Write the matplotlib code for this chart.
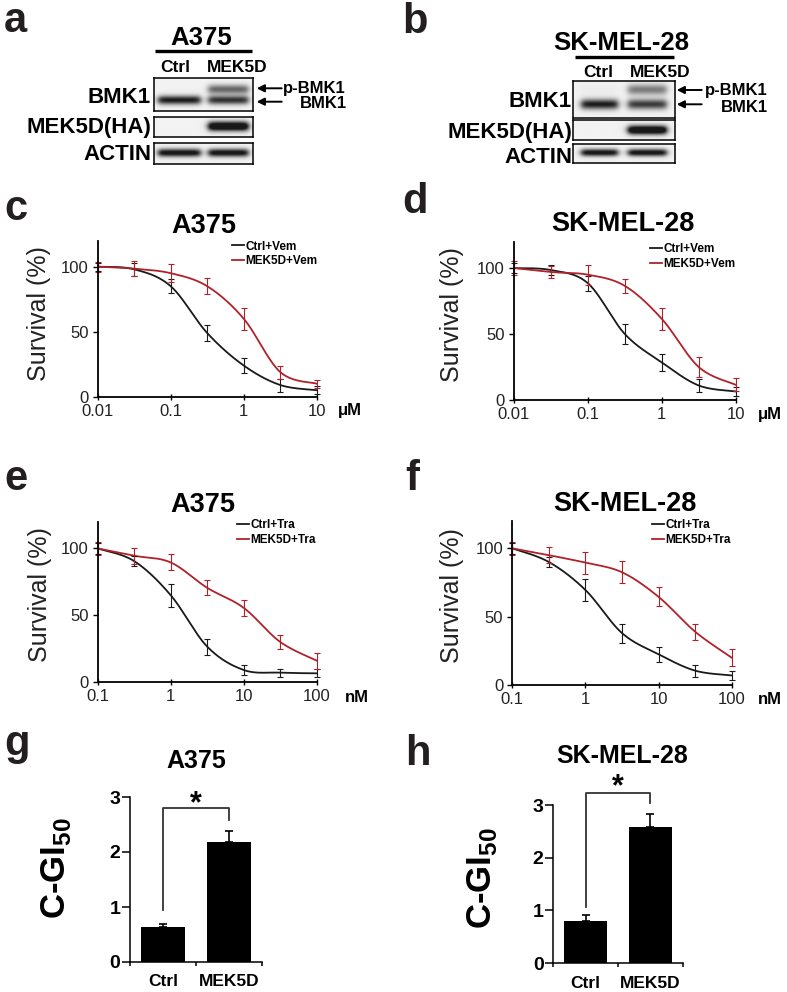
import matplotlib
matplotlib.use("Agg")
import matplotlib.pyplot as plt
import numpy as np

plt.rcParams['font.family'] = ['Liberation Sans', 'DejaVu Sans']
plt.rcParams['mathtext.fontset'] = 'custom'
plt.rcParams['mathtext.rm'] = 'Liberation Sans'
plt.rcParams['mathtext.bf'] = 'Liberation Sans:bold'

# ---- data ----
lanes = ['Ctrl', 'MEK5D']
blot_rows = ['BMK1', 'MEK5D(HA)', 'ACTIN']

# band strengths per lane (Ctrl, MEK5D)
a_bmk1_low = [1.0, 0.9]
a_bmk1_up = [0.0, 0.65]
a_ha = [0.0, 1.4]
a_actin = [1.1, 1.1]
b_bmk1_low = [1.0, 0.85]
b_bmk1_up = [0.03, 0.55]
b_ha = [0.0, 1.4]
b_actin = [1.1, 1.1]

vem_dose = [0.01, 0.0316, 0.1, 0.316, 1, 3.16, 10]
tra_dose = [0.1, 0.316, 1, 3.16, 10, 31.6, 100]

c_ctrl = [100, 98, 85, 49, 24, 9, 5]
c_ctrl_err = [3, 5, 5.5, 6, 6, 5, 3]
c_mek = [100, 98.5, 95, 85, 60, 19, 10]
c_mek_err = [4, 6, 7, 6, 8.5, 5, 3]

d_ctrl = [100, 98.5, 88.5, 50, 28.5, 11, 6.5]
d_ctrl_err = [4, 4, 5.5, 7.5, 6.5, 5, 3.5]
d_mek = [100, 97, 95, 86.5, 61.5, 25, 11.5]
d_mek_err = [5, 4.5, 7.5, 5.5, 8.5, 7.5, 5]

e_ctrl = [100, 90.5, 65, 26.5, 9, 7, 6.5]
e_ctrl_err = [4, 4, 8.5, 6, 4, 3, 3]
e_mek = [100, 94.5, 89.5, 70.5, 55.5, 30, 16]
e_mek_err = [5, 6, 6, 5.5, 6, 5, 6]

f_ctrl = [100, 90, 69.5, 38, 22.5, 10.5, 7]
f_ctrl_err = [4, 3.5, 8, 7, 5.5, 4.5, 3]
f_mek = [100, 95, 89.5, 82.5, 64.5, 39, 20]
f_mek_err = [5, 6, 8, 8, 7, 6, 6]

bar_groups = ['Ctrl', 'MEK5D']
g_gi50 = [0.64, 2.18]
g_gi50_err = [0.06, 0.20]
h_gi50 = [0.80, 2.59]
h_gi50_err = [0.11, 0.24]

BLACK = '#1a1a1a'
RED = '#b0222a'

W, H = 787, 992
fig = plt.figure(figsize=(W / 100, H / 100), dpi=100)

# pixel canvas for free text and arrows
cv = fig.add_axes([0, 0, 1, 1])
cv.set_xlim(0, W)
cv.set_ylim(H, 0)
cv.axis('off')


def box(x0, y0, x1, y1):
    return fig.add_axes([x0 / W, 1 - y1 / H, (x1 - x0) / W, (y1 - y0) / H])


def smooth(xs, ys, n=40):
    # Excel-like smoothed line (Catmull-Rom bezier) in log-x space
    lx = np.log10(np.asarray(xs, float))
    y = np.asarray(ys, float)
    px = np.concatenate([[lx[0]], lx, [lx[-1]]])
    py = np.concatenate([[y[0]], y, [y[-1]]])
    t = np.linspace(0, 1, n)[:, None]
    outx, outy = [], []
    for i in range(1, len(px) - 2):
        p0 = np.array([px[i - 1], py[i - 1]])
        p1 = np.array([px[i], py[i]])
        p2 = np.array([px[i + 1], py[i + 1]])
        p3 = np.array([px[i + 2], py[i + 2]])
        c1 = p1 + (p2 - p0) / 6
        c2 = p2 - (p3 - p1) / 6
        b = ((1 - t) ** 3) * p1 + 3 * ((1 - t) ** 2) * t * c1 + 3 * (1 - t) * t ** 2 * c2 + t ** 3 * p2
        outx.append(b[:, 0])
        outy.append(b[:, 1])
    return 10 ** np.concatenate(outx), np.concatenate(outy)


def draw_blot(ax, bands, lane_x):
    ny, nx = 80, 220
    yy = np.linspace(0, 1, ny)[:, None]
    xx = np.linspace(0, 1, nx)[None, :]
    dark = np.zeros((ny, nx))
    for row_y, sig, strengths in bands:
        for (x0, x1), s in zip(lane_x, strengths):
            lane = 1 / (1 + np.exp(-(xx - x0) / 0.018)) / (1 + np.exp((xx - x1) / 0.018))
            dark += s * lane * np.exp(-0.5 * ((yy - row_y) / sig) ** 2)
    img = 0.95 - 0.85 * np.clip(dark, 0, 1)
    ax.imshow(img, cmap='gray', vmin=0, vmax=1, extent=(0, 1, 1, 0),
              aspect='auto', interpolation='bilinear')
    ax.set_xlim(0, 1)
    ax.set_ylim(1, 0)
    ax.set_xticks([])
    ax.set_yticks([])
    for s in ax.spines.values():
        s.set_linewidth(1.1)


def blot_panel(letter, lx, title, title_x, title_y, line, col_pos, col_y,
               boxes, lane_x, bands, row_x, row_ys, arrows, arrow_lbl):
    cv.text(lx[0], lx[1], letter, fontsize=30, fontweight='bold', color='#231f20', va='baseline')
    cv.text(title_x, title_y, title, fontsize=18.5, fontweight='bold', ha='center', va='baseline')
    cv.plot([line[0], line[1]], [line[2], line[2]], color='black', lw=2.4, solid_capstyle='butt')
    for name, cx in zip(lanes, col_pos):
        cv.text(cx, col_y, name, fontsize=12.5, fontweight='bold', ha='center', va='baseline')
    for name, bx, bd, ry in zip(blot_rows, boxes, bands, row_ys):
        ax = box(*bx)
        draw_blot(ax, bd, lane_x)
        cv.text(row_x, ry, name, fontsize=16, fontweight='bold', ha='right', va='baseline')
    tip, tail, ys = arrows
    for yv in ys:
        cv.annotate('', xy=(tip, yv), xytext=(tail, yv),
                    arrowprops=dict(arrowstyle='-|>', color='black', lw=1.4,
                                    mutation_scale=11, shrinkA=0, shrinkB=0))
    (px_, py_), (bx_, by_) = arrow_lbl
    cv.text(px_, py_, 'p-BMK1', fontsize=12, fontweight='bold', ha='left', va='baseline')
    cv.text(bx_, by_, 'BMK1', fontsize=12, fontweight='bold', ha='right', va='baseline')


# ---- panel a ----
blot_panel('a', (4, 32), 'A375', 201, 45, (155, 252, 51), (175.5, 237), 71.7,
           [(154.3, 78, 252.7, 111), (154.3, 116.7, 252.7, 137.3), (154.3, 142.7, 252.7, 164.3)],
           [(0.04, 0.47), (0.55, 0.955)],
           [[(0.67, 0.095, a_bmk1_low), (0.34, 0.1, a_bmk1_up)],
            [(0.49, 0.16, a_ha)],
            [(0.49, 0.13, a_actin)]],
           151, [103.3, 133.3, 160],
           (256.7, 281.7, (88.3, 101.7)), ((283, 93.3), (346.7, 108.3)))

# ---- panel b ----
blot_panel('b', (402, 33), 'SK-MEL-28', 621.7, 50, (575, 674, 56.7), (598.3, 660), 76.7,
           [(573.3, 81, 675, 118.3), (573.3, 120, 675, 140), (573.3, 144, 675, 163.3)],
           [(0.08, 0.44), (0.54, 0.92)],
           [[(0.64, 0.095, b_bmk1_low), (0.25, 0.1, b_bmk1_up)],
            [(0.5, 0.16, b_ha)],
            [(0.48, 0.13, b_actin)]],
           572, [106.7, 138, 163],
           (676.7, 701.7, (90, 104.3)), ((705, 95), (768.3, 111.7)))


def curve_panel(letter, lpos, rect, title, tpos, doses, ticklabels, unit, upos,
                ctrl, ctrl_err, mek, mek_err, drug, leg_pos, ylab_pos):
    ax = box(*rect)
    ax.set_xscale('log')
    sx, sy = smooth(doses, ctrl)
    ax.plot(sx, sy, color=BLACK, lw=1.3, label='Ctrl+' + drug)
    sx, sy = smooth(doses, mek)
    ax.plot(sx, sy, color=RED, lw=1.3, label='MEK5D+' + drug)
    ax.errorbar(doses, ctrl, yerr=ctrl_err, fmt='none', ecolor=BLACK, elinewidth=0.8,
                capsize=2.2, capthick=0.8, clip_on=False)
    ax.errorbar(doses, mek, yerr=mek_err, fmt='none', ecolor=RED, elinewidth=0.8,
                capsize=2.2, capthick=0.8, clip_on=False)
    ax.set_xlim(doses[0], doses[-1])
    ax.set_ylim(0, 120)
    ax.set_xticks([doses[0], doses[2], doses[4], doses[6]], ticklabels)
    ax.xaxis.set_minor_locator(matplotlib.ticker.NullLocator())
    ax.set_yticks([0, 50, 100])
    ax.tick_params(axis='x', direction='inout', length=4.5, width=1, pad=3,
                   labelsize=12, labelcolor='#222222')
    ax.tick_params(axis='y', direction='out', length=3.5, width=1, pad=3,
                   labelsize=12, labelcolor='#222222')
    for s in ['top', 'right']:
        ax.spines[s].set_visible(False)
    for s in ['left', 'bottom']:
        ax.spines[s].set_linewidth(1.3)
    ax.patch.set_alpha(0)
    ax.legend(loc='upper left', bbox_to_anchor=leg_pos, bbox_transform=cv.transData,
              frameon=False, borderpad=0, borderaxespad=0, handlelength=1.0,
              handletextpad=0.15, labelspacing=0.25,
              prop={'size': 8.5, 'weight': 'bold'})
    cv.text(lpos[0], lpos[1], letter, fontsize=30, fontweight='bold', color='#231f20', va='baseline')
    cv.text(tpos[0], tpos[1], title, fontsize=19.5, fontweight='bold', ha='center', va='baseline')
    cv.text(upos[0], upos[1], unit, fontsize=12, fontweight='bold', ha='center', va='center')
    cv.text(ylab_pos[0], ylab_pos[1], 'Survival (%)', fontsize=18, rotation=90,
            ha='center', va='center', color='#222222')


curve_panel('c', (4, 220), (97.7, 240.7, 316.7, 396.7), 'A375', (204, 232.7),
            vem_dose, ['0.01', '0.1', '1', '10'], 'μM', (350, 410),
            c_ctrl, c_ctrl_err, c_mek, c_mek_err, 'Vem', (231.7, 240.5), (39, 314))
curve_panel('d', (402, 213), (514, 241.7, 735.7, 400), 'SK-MEL-28', (623, 231),
            vem_dose, ['0.01', '0.1', '1', '10'], 'μM', (770, 414),
            d_ctrl, d_ctrl_err, d_mek, d_mek_err, 'Vem', (650, 243), (451.7, 315))
curve_panel('e', (4, 490), (97.7, 521.7, 316.7, 682), 'A375', (203, 511.7),
            tra_dose, ['0.1', '1', '10', '100'], 'nM', (357, 698),
            e_ctrl, e_ctrl_err, e_mek, e_mek_err, 'Tra', (236.7, 519), (40, 595))
curve_panel('f', (405, 490), (512.3, 521, 731.7, 685), 'SK-MEL-28', (625, 510.7),
            tra_dose, ['0.1', '1', '10', '100'], 'nM', (770, 700),
            f_ctrl, f_ctrl_err, f_mek, f_mek_err, 'Tra', (651.7, 519), (452, 595.6))


def bar_panel(letter, lpos, rect, title, tpos, vals, errs, bracket, star_y, ylab_pos):
    ax = box(*rect)
    xs = [0.5, 1.5]
    ax.bar(xs, vals, width=0.66, color='black')
    ax.errorbar(xs, vals, yerr=[[0, 0], errs], fmt='none', ecolor='black',
                elinewidth=1.2, capsize=3, capthick=1.2)
    ax.set_xlim(0, 2)
    ax.set_ylim(0, 3)
    ax.set_yticks([0, 1, 2, 3])
    ax.set_xticks(xs, bar_groups)
    ax.set_xticks([0, 1, 2], minor=True)
    ax.tick_params(axis='x', which='major', length=0, pad=9, labelsize=12.5)
    ax.tick_params(axis='x', which='minor', direction='out', length=3, width=1.1)
    ax.tick_params(axis='y', direction='out', length=6, width=1.1, pad=1, labelsize=14)
    for lab in ax.get_xticklabels() + ax.get_yticklabels():
        lab.set_fontweight('bold')
    for s in ['top', 'right']:
        ax.spines[s].set_visible(False)
    for s in ['left', 'bottom']:
        ax.spines[s].set_linewidth(1.1)
    y0, ytop, y1 = bracket
    ax.plot([0.5, 0.5, 1.5, 1.5], [y0, ytop, ytop, y1], color='#333333', lw=1.3, clip_on=False)
    ax.text(1.0, star_y, '*', fontsize=22, fontweight='bold', ha='center', va='center', clip_on=False)
    cv.text(lpos[0], lpos[1], letter, fontsize=30, fontweight='bold', color='#231f20', va='baseline')
    cv.text(tpos[0], tpos[1], title, fontsize=18, fontweight='bold', ha='center', va='baseline')
    cv.text(ylab_pos[0], ylab_pos[1], r'C-GI$_{\mathbf{50}}$', fontsize=25, fontweight='bold',
            rotation=90, ha='center', va='center')


bar_panel('g', (4, 755), (130, 797, 262, 962), 'A375', (196.5, 768),
          g_gi50, g_gi50_err, (0.94, 2.8, 2.59), 2.86, (56, 868))
bar_panel('h', (405, 765), (553.3, 805, 682.7, 963), 'SK-MEL-28', (622.5, 763),
          h_gi50, h_gi50_err, (1.07, 3.22, 3.03), 3.33, (482, 878))

fig.savefig('out.png', dpi=100)
